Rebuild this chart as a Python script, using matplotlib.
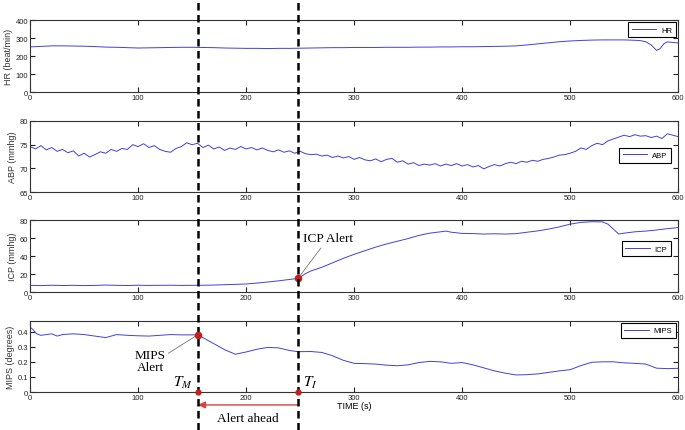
import matplotlib.pyplot as plt
import matplotlib.transforms as mtransforms
import numpy as np

plt.rcParams['font.family'] = ['Liberation Sans', 'DejaVu Sans']
plt.rcParams['mathtext.fontset'] = 'stix'

# ---- data ----
hr_t = [0, 10, 20, 30, 40, 50, 60, 70, 80, 90, 100, 110, 120, 130, 140, 150, 160, 170, 180, 190,
        200, 210, 220, 230, 240, 250, 260, 270, 280, 290, 300, 310, 320, 330, 340, 350, 360, 370,
        380, 390, 400, 410, 420, 430, 440, 450, 460, 470, 480, 490, 500, 510, 520, 530, 540, 550,
        560, 565, 570, 575, 580, 583, 587, 590, 595, 600]
hr_v = [251, 254, 257, 257, 256, 255, 253, 250, 249, 247, 245, 246, 247, 248, 249, 249, 248, 247, 245, 244,
        243, 243, 242, 243, 243, 244, 245, 246, 247, 247, 248, 248, 248, 249, 249, 249, 250, 250,
        251, 251, 252, 252, 253, 254, 255, 257, 262, 268, 274, 280, 284, 287, 289, 290, 290, 290,
        288, 286, 280, 262, 232, 240, 270, 279, 276, 273]

abp_t = list(range(0, 601, 5))
abp_v = [74.6, 74.1, 74.8, 73.9, 74.4, 73.6, 74.0, 73.3, 73.7, 72.6, 73.2, 72.4, 72.9, 73.5, 73.2, 74.0,
         73.6, 74.2, 74.0, 75.0, 74.6, 75.2, 74.4, 74.8, 74.0, 73.6, 73.4, 74.2, 74.6, 75.4, 75.0, 75.3,
         74.4, 74.9, 74.1, 74.5, 73.8, 74.3, 74.0, 74.6, 74.1, 74.4, 73.9, 74.3, 73.8, 73.5, 73.9, 73.4,
         73.7, 73.2, 73.6, 73.1, 72.9, 73.0, 72.6, 72.8, 72.3, 72.6, 72.2, 72.5, 71.9, 72.3, 71.8, 71.6,
         72.0, 71.4, 71.9, 72.1, 71.3, 71.6, 70.9, 71.2, 70.6, 70.9, 70.7, 71.0, 70.5, 70.9, 70.6, 71.0,
         70.5, 70.8, 70.3, 70.6, 69.9, 70.4, 70.8, 70.5, 71.0, 71.3, 71.0, 71.5, 71.3, 71.7, 71.5, 71.9,
         72.1, 72.4, 72.8, 72.9, 73.2, 73.6, 74.3, 74.0, 74.8, 75.3, 75.0, 75.8, 76.2, 76.6, 77.0, 76.7,
         77.1, 76.8, 76.9, 76.5, 76.8, 76.3, 77.3, 77.0, 76.7]

icp_t = [0, 10, 20, 30, 40, 50, 60, 70, 80, 90, 100, 110, 120, 130, 140, 150, 160, 170, 180, 190,
         200, 210, 220, 230, 240, 248, 250, 255, 260, 270, 280, 290, 300, 310, 320, 330, 340, 350,
         360, 370, 380, 385, 390, 400, 410, 420, 430, 440, 450, 460, 470, 480, 490, 500, 510, 520,
         530, 535, 540, 545, 550, 560, 570, 580, 590, 600]
icp_v = [7.5, 7.2, 7.6, 7.3, 7.5, 7.2, 7.4, 7.8, 7.5, 7.3, 7.6, 7.4, 7.5, 7.6, 7.4, 7.5, 7.6, 7.8, 8.2, 8.6,
         9.0, 10.0, 11.2, 12.5, 14.0, 15.2, 16.5, 20.5, 23.5, 27.5, 32.5, 37.5, 42.0, 46.0, 50.0, 53.5,
         56.5, 59.5, 63.0, 65.5, 67.0, 67.8, 66.5, 65.2, 65.0, 64.5, 64.8, 64.5, 65.0, 66.5, 68.0, 70.0,
         72.5, 75.5, 77.5, 78.2, 78.0, 75.5, 70.0, 64.5, 65.5, 67.0, 67.8, 69.0, 70.5, 71.7]

mips_t = [0, 3, 6, 10, 15, 20, 25, 30, 40, 50, 60, 70, 80, 90, 100, 110, 120, 130, 140, 150, 155,
          160, 170, 180, 190, 200, 210, 220, 230, 240, 248, 260, 270, 280, 290, 300, 310, 320, 330,
          340, 350, 360, 370, 380, 390, 400, 410, 420, 430, 440, 450, 460, 470, 480, 490, 500, 510,
          520, 530, 540, 550, 560, 570, 580, 590, 600]
mips_v = [0.43, 0.41, 0.385, 0.375, 0.38, 0.385, 0.37, 0.38, 0.385, 0.38, 0.37, 0.36, 0.38, 0.375, 0.372,
          0.37, 0.375, 0.38, 0.378, 0.378, 0.378, 0.36, 0.32, 0.28, 0.25, 0.265, 0.283, 0.295, 0.292,
          0.275, 0.267, 0.268, 0.262, 0.24, 0.21, 0.19, 0.188, 0.185, 0.178, 0.174, 0.18, 0.195, 0.203,
          0.2, 0.19, 0.195, 0.18, 0.16, 0.14, 0.125, 0.113, 0.115, 0.12, 0.13, 0.14, 0.148, 0.175, 0.197,
          0.2, 0.2, 0.193, 0.19, 0.185, 0.158, 0.155, 0.157]

t_mips = 155      # MIPS alert time
t_icp = 248       # ICP alert time
mips_alert = 0.378
icp_alert = 15.2

blue = '#4040e0'
red = '#c81e1e'

fig = plt.figure(figsize=(6.85, 4.31), dpi=100)
left, width = 0.044, 0.946
rows = [(0.784, 0.167), (0.552, 0.165), (0.320, 0.167), (0.088, 0.165)]

panels = [
    (hr_t, hr_v, 'HR', 'HR (beat/min)', (0, 400), [0, 100, 200, 300, 400], 'upper right'),
    (abp_t, abp_v, 'ABP', 'ABP (mmhg)', (65, 80), [65, 70, 75, 80], (0.995, 0.52)),
    (icp_t, icp_v, 'ICP', 'ICP (mmhg)', (0, 80), [0, 20, 40, 60, 80], (0.995, 0.60)),
    (mips_t, mips_v, 'MIPS', 'MIPS (degrees)', (0, 0.47), [0, 0.1, 0.2, 0.3, 0.4], 'upper right'),
]

axes = []
for (b, h), (t, v, name, ylab, ylim, yt, loc) in zip(rows, panels):
    ax = fig.add_axes([left, b, width, h])
    ax.plot(t, v, color=blue, lw=0.7, label=name)
    ax.set_xlim(0, 600)
    ax.set_ylim(*ylim)
    ax.set_xticks([0, 100, 200, 300, 400, 500, 600])
    ax.set_yticks(yt)
    if name == 'MIPS':
        ax.set_yticklabels(['0', '0.1', '0.2', '0.3', '0.4'])
    ax.tick_params(direction='in', length=3.5, width=0.8, top=True, right=True,
                   labelsize=5.5, pad=1.5, colors='#222222')
    for s in ax.spines.values():
        s.set_linewidth(0.8)
        s.set_color('#333333')
    ax.set_ylabel(ylab, fontsize=6.5, color='#333333', labelpad=2)
    if isinstance(loc, tuple):
        leg = ax.legend(loc='center right', bbox_to_anchor=loc, fontsize=5.5, handlelength=3.2,
                        fancybox=False, framealpha=1, borderpad=0.5, handletextpad=0.6)
    else:
        leg = ax.legend(loc=loc, fontsize=5.5, handlelength=3.2, fancybox=False, framealpha=1,
                        borderpad=0.5, handletextpad=0.6, borderaxespad=0.3)
    leg.get_frame().set_edgecolor('black')
    leg.get_frame().set_linewidth(0.8)
    axes.append(ax)

ax_hr, ax_abp, ax_icp, ax_mips = axes
ax_mips.set_xlabel('TIME (s)', fontsize=6.5, labelpad=0, x=0.5)

# dashed alert lines spanning the whole figure
trans = mtransforms.blended_transform_factory(ax_mips.transData, fig.transFigure)
for tx in (t_mips, t_icp):
    ax_mips.plot([tx, tx], [0.0, 1.0], transform=trans, clip_on=False, color='black',
                 lw=1.8, linestyle=(0, (3.0, 1.8)), zorder=5)

# alert markers
ax_icp.plot([t_icp], [icp_alert], 'o', color=red, ms=4.5, zorder=6, clip_on=False)
ax_mips.plot([t_mips], [mips_alert], 'o', color=red, ms=4.5, zorder=6, clip_on=False)
ax_mips.plot([t_mips, t_icp], [0, 0], 'o', color=red, ms=3.5, lw=0, zorder=6, clip_on=False)

ax_icp.annotate('ICP Alert', xy=(t_icp, icp_alert), xytext=(253, 60),
                fontsize=9.5, family='Liberation Serif', va='center', ha='left',
                arrowprops=dict(arrowstyle='-', color='#777777', lw=0.6, shrinkA=1, shrinkB=2))
ax_mips.annotate('MIPS\nAlert', xy=(t_mips, mips_alert), xytext=(111, 0.205),
                 fontsize=9.5, family='Liberation Serif', va='center', ha='center',
                 linespacing=1.0,
                 arrowprops=dict(arrowstyle='-', color='#777777', lw=0.6, shrinkA=0, shrinkB=2,
                                 relpos=(1.0, 0.75)))
ax_mips.text(151, 0.066, r'$T_M$', fontsize=11, ha='right', va='center')
ax_mips.text(252.5, 0.066, r'$T_I$', fontsize=11, ha='left', va='center')

# alert-ahead arrow below the axis
ax_mips.annotate('', xy=(t_mips, -0.085), xytext=(t_icp, -0.085),
                 annotation_clip=False,
                 arrowprops=dict(arrowstyle='-|>,head_length=0.45,head_width=0.2',
                                 color='#d84040', lw=1.0, shrinkA=0, shrinkB=0))
ax_mips.text((t_mips + t_icp) / 2, -0.17, 'Alert ahead', fontsize=9.5,
             family='Liberation Serif', ha='center', va='center', clip_on=False)

fig.savefig('out.png', dpi=100)
